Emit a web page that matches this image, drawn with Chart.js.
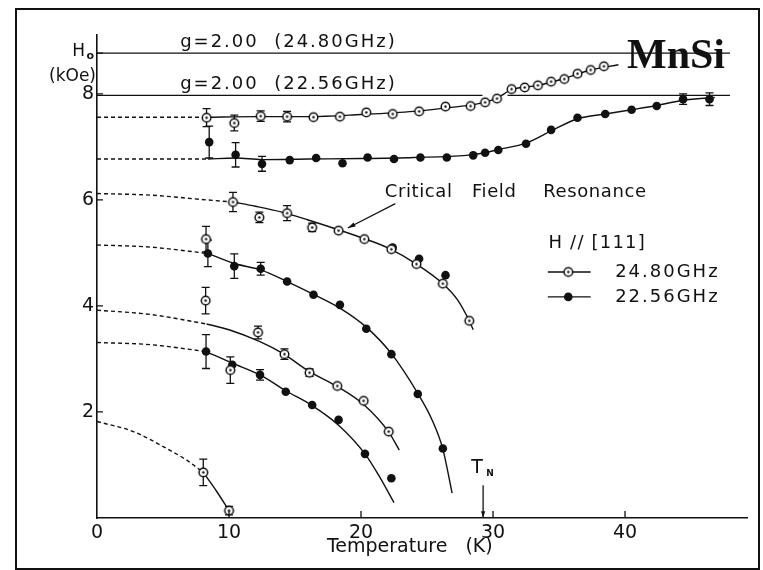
<!DOCTYPE html>
<html>
<head>
<meta charset="utf-8">
<script src="https://cdn.jsdelivr.net/npm/chart.js@4.4.0/dist/chart.umd.min.js"></script>
<style>
  html, body { margin: 0; padding: 0; background: #fff; }
  #c { display: block; }
</style>
</head>
<body>
<canvas id="c" width="763" height="570"></canvas>
<script>
// ---- axes ----
const X_TICKS = [0, 10, 20, 30, 40];
const Y_TICKS = [2, 4, 6, 8];
const X_TITLE = 'Temperature   (K)';

// ---- g = 2.00 resonance fields (kOe) ----
const G_FIELDS = [8.77, 7.97];
const G_TEXT = ['g=2.00  (24.80GHz)', 'g=2.00  (22.56GHz)'];
const G_SPAN = [0, 47.95];
const G_GAP_2256 = [29.2, 31.1];
const T_N = 29.25;

// ---- 24.80 GHz (open circles): T (K), H (kOe), error (kOe) ----
const O1_T = [8.3, 10.4, 12.4, 14.4, 16.4, 18.4, 20.4, 22.4, 24.4, 26.4, 28.3, 29.4, 30.3, 31.4, 32.4, 33.4, 34.4, 35.4, 36.4, 37.4, 38.4];
const O1_H = [7.55, 7.45, 7.58, 7.57, 7.56, 7.57, 7.65, 7.62, 7.67, 7.76, 7.77, 7.84, 7.91, 8.09, 8.12, 8.16, 8.23, 8.28, 8.38, 8.45, 8.52];
const O1_E = [0.17, 0.15, 0.1, 0.1, 0, 0, 0, 0, 0, 0, 0, 0, 0, 0, 0, 0, 0, 0, 0, 0, 0];

const O2_T = [8.26, 10.3, 12.3, 14.4, 16.3, 18.3, 20.25, 22.3, 24.2, 26.2, 28.2];
const O2_H = [5.26, 5.96, 5.67, 5.75, 5.48, 5.42, 5.26, 5.07, 4.79, 4.42, 3.72];
const O2_E = [0.24, 0.18, 0.1, 0.14, 0.08, 0, 0, 0, 0, 0, 0];

const O3_T = [8.23, 10.1, 12.2, 14.2, 16.1, 18.2, 20.2, 22.1];
const O3_H = [4.1, 2.79, 3.5, 3.09, 2.74, 2.49, 2.21, 1.63];
const O3_E = [0.25, 0.25, 0.12, 0.1, 0.07, 0, 0, 0];

const O4_T = [8.05, 10.0];
const O4_H = [0.86, 0.14];
const O4_E = [0.25, 0.08];

// ---- 22.56 GHz (filled circles) ----
const F1_T = [8.5, 10.5, 12.5, 14.6, 16.6, 18.6, 20.5, 22.5, 24.5, 26.5, 28.5, 29.4, 30.4, 32.5, 34.4, 36.4, 38.5, 40.5, 42.4, 44.4, 46.4];
const F1_H = [7.09, 6.85, 6.68, 6.75, 6.79, 6.69, 6.8, 6.77, 6.8, 6.8, 6.84, 6.89, 6.94, 7.06, 7.32, 7.55, 7.62, 7.7, 7.77, 7.9, 7.9];
const F1_E = [0.3, 0.23, 0.14, 0, 0, 0, 0, 0, 0, 0, 0, 0, 0, 0, 0, 0, 0, 0, 0, 0.1, 0.12];

const F2_T = [22.4, 24.4, 26.4];
const F2_H = [5.1, 4.89, 4.58];

const F3_T = [8.4, 10.4, 12.4, 14.4, 16.4, 18.4, 20.4, 22.3, 24.3, 26.2];
const F3_H = [4.99, 4.75, 4.7, 4.46, 4.21, 4.02, 3.57, 3.09, 2.34, 1.31];
const F3_E = [0.25, 0.23, 0.12, 0, 0, 0, 0, 0, 0, 0];

const F4_T = [8.26, 10.25, 12.35, 14.3, 16.3, 18.3, 20.3, 22.3];
const F4_H = [3.14, 2.89, 2.7, 2.38, 2.13, 1.85, 1.21, 0.75];
const F4_E = [0.32, 0, 0.1, 0, 0, 0, 0, 0];

// ---- guide curves (solid) and extrapolations to T = 0 (dashed) ----
const C1_T = [8.3, 12, 16, 20, 24, 27, 29, 30.3, 31.4, 33.4, 35.4, 37.4, 39.5];
const C1_H = [7.56, 7.57, 7.57, 7.61, 7.67, 7.75, 7.82, 7.92, 8.08, 8.16, 8.29, 8.45, 8.55];
const D1_T = [0, 8.3];
const D1_H = [7.56, 7.56];

const C2_T = [8.4, 10.5, 12.5, 16, 20, 24, 28, 29.4, 30.4, 32.5, 34.4, 36.4, 38.5, 40.5, 42.4, 44.4, 46.8];
const C2_H = [6.77, 6.79, 6.76, 6.77, 6.78, 6.8, 6.84, 6.89, 6.95, 7.07, 7.3, 7.53, 7.62, 7.7, 7.78, 7.88, 7.93];
const D2_T = [0, 8.4];
const D2_H = [6.77, 6.77];

const C3_T = [10.3, 12, 14, 16, 18, 20, 22, 24.2, 26.2, 27.3, 28.2, 28.5];
const C3_H = [5.96, 5.88, 5.77, 5.62, 5.46, 5.29, 5.1, 4.79, 4.42, 4.12, 3.72, 3.55];
const D3_T = [0, 4, 8.3, 10.3];
const D3_H = [6.12, 6.09, 6.0, 5.96];

const C4_T = [8.4, 10.4, 12.4, 14.4, 16.4, 18.4, 20.4, 22.3, 24.3, 25.4, 26.2, 26.9];
const C4_H = [4.99, 4.8, 4.68, 4.46, 4.22, 3.96, 3.6, 3.1, 2.35, 1.84, 1.3, 0.47];
const D4_T = [0, 4, 8.4];
const D4_H = [5.15, 5.11, 4.99];

const C5_T = [8.3, 10, 12.3, 14.1, 16.1, 18.2, 20.2, 22.1, 22.9];
const C5_H = [3.66, 3.55, 3.33, 3.1, 2.76, 2.48, 2.14, 1.62, 1.28];
const D5_T = [0, 4, 8.3];
const D5_H = [3.92, 3.84, 3.66];

const C6_T = [8.26, 10.25, 12.35, 14.3, 16.3, 18.3, 20.3, 21.4, 22.5];
const C6_H = [3.14, 2.92, 2.7, 2.4, 2.12, 1.75, 1.21, 0.78, 0.29];
const D6_T = [0, 4, 8.26];
const D6_H = [3.31, 3.27, 3.14];

const C7_T = [8.05, 9.07, 10.0];
const C7_H = [0.86, 0.5, 0.14];
const D7_T = [0, 2.75, 5.28, 6.8, 8.05];
const D7_H = [1.82, 1.63, 1.31, 1.09, 0.86];

const FONT = '"DejaVu Sans", "Liberation Sans", sans-serif';
const INK = '#111';

// open circle with a centre dot
const openMarker = (() => {
  const c = document.createElement('canvas');
  c.width = 13; c.height = 13;
  const g = c.getContext('2d');
  g.beginPath(); g.arc(6.5, 6.5, 4.3, 0, Math.PI * 2);
  g.fillStyle = '#fff'; g.fill();
  g.lineWidth = 1.5; g.strokeStyle = INK; g.stroke();
  g.beginPath(); g.arc(6.5, 6.5, 1.2, 0, Math.PI * 2);
  g.fillStyle = INK; g.fill();
  return c;
})();

const pts = (T, H) => T.map((t, i) => ({ x: t, y: H[i] }));

const markers = (label, T, H, E, open) => ({
  label, data: pts(T, H), errors: E || null,
  showLine: false, order: 0,
  pointStyle: open ? openMarker : 'circle',
  pointRadius: open ? 6 : 4.3,
  pointBackgroundColor: INK, pointBorderWidth: 0, borderColor: INK
});

const curve = (T, H, dashed) => ({
  data: pts(T, H), showLine: true, order: 1,
  borderColor: INK, borderWidth: 1.4, borderDash: dashed ? [4, 3] : [],
  pointRadius: 0, cubicInterpolationMode: 'monotone', fill: false
});

const gLine = (h, gap) => {
  const d = [{ x: G_SPAN[0], y: h }];
  if (gap) d.push({ x: gap[0], y: h }, { x: (gap[0] + gap[1]) / 2, y: null }, { x: gap[1], y: h });
  d.push({ x: G_SPAN[1], y: h });
  return { data: d, showLine: true, spanGaps: false, order: 2, borderColor: INK, borderWidth: 1.3, pointRadius: 0, tension: 0 };
};

const datasets = [
  markers('24.80 GHz', O1_T, O1_H, O1_E, true),
  markers('24.80 GHz', O2_T, O2_H, O2_E, true),
  markers('24.80 GHz', O3_T, O3_H, O3_E, true),
  markers('24.80 GHz', O4_T, O4_H, O4_E, true),
  markers('22.56 GHz', F1_T, F1_H, F1_E, false),
  markers('22.56 GHz', F2_T, F2_H, null, false),
  markers('22.56 GHz', F3_T, F3_H, F3_E, false),
  markers('22.56 GHz', F4_T, F4_H, F4_E, false),
  curve(C1_T, C1_H), curve(D1_T, D1_H, true),
  curve(C2_T, C2_H), curve(D2_T, D2_H, true),
  curve(C3_T, C3_H), curve(D3_T, D3_H, true),
  curve(C4_T, C4_H), curve(D4_T, D4_H, true),
  curve(C5_T, C5_H), curve(D5_T, D5_H, true),
  curve(C6_T, C6_H), curve(D6_T, D6_H, true),
  curve(C7_T, C7_H), curve(D7_T, D7_H, true),
  gLine(G_FIELDS[0]), gLine(G_FIELDS[1], G_GAP_2256)
];

function text(ctx, s, x, y, size, opts = {}) {
  ctx.font = (opts.weight ? opts.weight + ' ' : '') + size + 'px ' + (opts.family || FONT);
  ctx.textAlign = opts.align || 'left';
  ctx.textBaseline = opts.baseline || 'middle';
  ctx.letterSpacing = (opts.spacing || 0) + 'px';
  ctx.fillStyle = INK;
  ctx.fillText(s, x, y);
  ctx.letterSpacing = '0px';
}

function arrow(ctx, x1, y1, x2, y2, head) {
  const a = Math.atan2(y2 - y1, x2 - x1);
  ctx.beginPath(); ctx.moveTo(x1, y1); ctx.lineTo(x2, y2); ctx.stroke();
  ctx.beginPath();
  ctx.moveTo(x2, y2);
  ctx.lineTo(x2 - head * Math.cos(a - 0.3), y2 - head * Math.sin(a - 0.3));
  ctx.lineTo(x2 - head * Math.cos(a + 0.3), y2 - head * Math.sin(a + 0.3));
  ctx.closePath(); ctx.fill();
}

// vertical error bars with caps, under the markers
const errorBars = {
  id: 'errorBars',
  beforeDatasetsDraw(chart) {
    const { ctx, scales: { x, y } } = chart;
    ctx.save();
    ctx.strokeStyle = INK; ctx.lineWidth = 1.3;
    chart.data.datasets.forEach(ds => {
      if (!ds.errors) return;
      ds.data.forEach((p, i) => {
        const e = ds.errors[i];
        if (!e) return;
        const px = x.getPixelForValue(p.x);
        const y1 = y.getPixelForValue(p.y - e), y2 = y.getPixelForValue(p.y + e);
        ctx.beginPath();
        ctx.moveTo(px, y1); ctx.lineTo(px, y2);
        ctx.moveTo(px - 4, y1); ctx.lineTo(px + 4, y1);
        ctx.moveTo(px - 4, y2); ctx.lineTo(px + 4, y2);
        ctx.stroke();
      });
    });
    ctx.restore();
  }
};

// frame, inward ticks, labels, legend and notes
const decorations = {
  id: 'decorations',
  beforeDraw(chart) {
    const ctx = chart.ctx;
    ctx.save(); ctx.fillStyle = '#fff'; ctx.fillRect(0, 0, chart.width, chart.height); ctx.restore();
  },
  afterDraw(chart) {
    const { ctx, chartArea: ca, scales: { x, y } } = chart;
    const px = v => x.getPixelForValue(v), py = v => y.getPixelForValue(v);
    ctx.save();
    ctx.strokeStyle = INK; ctx.fillStyle = INK;

    // outer frame
    ctx.lineWidth = 2;
    ctx.strokeRect(16, 9, 743, 560);

    // inward tick marks
    ctx.lineWidth = 1.3;
    ctx.beginPath();
    X_TICKS.slice(1).forEach(v => { ctx.moveTo(px(v), ca.bottom); ctx.lineTo(px(v), ca.bottom - 7); });
    Y_TICKS.forEach(v => { ctx.moveTo(ca.left, py(v)); ctx.lineTo(ca.left + 6, py(v)); });
    ctx.moveTo(ca.left, py(G_FIELDS[0])); ctx.lineTo(ca.left + 6, py(G_FIELDS[0]));
    ctx.stroke();

    // axis titles
    text(ctx, X_TITLE, px(23.7), ca.bottom + 29, 19, { align: 'center' });
    text(ctx, 'H', ca.left - 12, py(G_FIELDS[0]) - 1, 17, { align: 'right' });
    text(ctx, 'o', ca.left - 3, py(G_FIELDS[0]) + 3, 11, { align: 'right', weight: 'bold' });
    text(ctx, '(kOe)', ca.left - 1, py(G_FIELDS[0]) + 24, 17, { align: 'right' });

    // g = 2.00 labels
    text(ctx, G_TEXT[0], px(6.3), py(G_FIELDS[0]) - 11, 18, { spacing: 2 });
    text(ctx, G_TEXT[1], px(6.3), py(G_FIELDS[1]) - 11, 18, { spacing: 2 });

    // sample name
    text(ctx, 'MnSi', px(40.15), py(8.49), 42, { family: '"Liberation Serif", "Times New Roman", serif', weight: 'bold', baseline: 'alphabetic' });

    // critical field note with arrow
    text(ctx, 'Critical', px(21.8), py(6.15), 18, { spacing: 0.6 });
    text(ctx, 'Field', px(28.4), py(6.15), 18, { spacing: 0.6 });
    text(ctx, 'Resonance', px(33.8), py(6.15), 18, { spacing: 0.6 });
    ctx.lineWidth = 1.2;
    arrow(ctx, px(22.6), py(5.93), px(19.0), py(5.47), 8);

    // legend
    text(ctx, 'H // [111]', px(34.2), py(5.19), 18, { spacing: 1.2 });
    const lx0 = px(34.15), lx1 = px(37.4), lxm = px(35.7);
    const ly1 = py(4.64), ly2 = py(4.17);
    ctx.lineWidth = 1.3;
    ctx.beginPath(); ctx.moveTo(lx0, ly1); ctx.lineTo(lx1, ly1); ctx.moveTo(lx0, ly2); ctx.lineTo(lx1, ly2); ctx.stroke();
    ctx.drawImage(openMarker, lxm - 6.5, ly1 - 6.5);
    ctx.beginPath(); ctx.arc(lxm, ly2, 4.3, 0, Math.PI * 2); ctx.fill();
    text(ctx, '24.80GHz', px(39.25), ly1, 18, { spacing: 2 });
    text(ctx, '22.56GHz', px(39.25), ly2, 18, { spacing: 2 });

    // Néel temperature
    text(ctx, 'T', px(T_N) - 6, py(0.94), 19, { align: 'center' });
    text(ctx, 'N', px(T_N) + 7, py(0.84), 9, { align: 'center', weight: 'bold' });
    ctx.lineWidth = 1.3;
    arrow(ctx, px(T_N), py(0.62), px(T_N), py(0), 7);

    ctx.restore();
  }
};

new Chart(document.getElementById('c'), {
  type: 'line',
  data: { datasets },
  plugins: [errorBars, decorations],
  options: {
    responsive: false,
    animation: false,
    devicePixelRatio: 1,
    layout: { padding: { left: 0, right: 16, top: 35, bottom: 0 } },
    plugins: { legend: { display: false }, tooltip: { enabled: false } },
    scales: {
      x: {
        type: 'linear', min: 0, max: 49.24,
        afterFit: s => { s.height = 52; },
        afterBuildTicks: s => { s.ticks = X_TICKS.map(v => ({ value: v })); },
        grid: { display: false, drawTicks: false },
        border: { display: true, color: INK, width: 1.6 },
        ticks: { color: INK, font: { family: FONT, size: 19 }, padding: 4, maxRotation: 0, autoSkip: false }
      },
      y: {
        type: 'linear', min: 0, max: 9.11,
        afterFit: s => { s.width = 97; },
        afterBuildTicks: s => { s.ticks = Y_TICKS.map(v => ({ value: v })); },
        grid: { display: false, drawTicks: false },
        border: { display: true, color: INK, width: 1.6 },
        ticks: { color: INK, font: { family: FONT, size: 19 }, padding: 3 }
      }
    }
  }
});
</script>
</body>
</html>
